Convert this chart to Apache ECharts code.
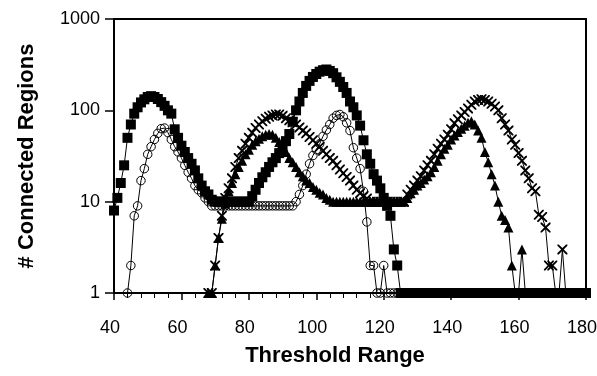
<!DOCTYPE html>
<html><head><meta charset="utf-8">
<script src="https://cdn.jsdelivr.net/npm/echarts@6/dist/echarts.min.js"></script>
<style>html,body{margin:0;padding:0;background:#fff}#c{width:597px;height:376px}</style>
</head><body><div id="c"></div>
<script>
const thresholds = [
 40,41,42,43,44,45,46,47,48,49,
 50,51,52,53,54,55,56,57,58,59,
 60,61,62,63,64,65,66,67,68,69,
 70,71,72,73,74,75,76,77,78,79,
 80,81,82,83,84,85,86,87,88,89,
 90,91,92,93,94,95,96,97,98,99,
 100,101,102,103,104,105,106,107,108,109,
 110,111,112,113,114,115,116,117,118,119,
 120,121,122,123,124,125,126,127,128,129,
 130,131,132,133,134,135,136,137,138,139,
 140,141,142,143,144,145,146,147,148,149,
 150,151,152,153,154,155,156,157,158,159,
 160,161,162,163,164,165,166,167,168,169,
 170,171,172,173,174,175,176,177,178,179,
 180];

const squares = [
 8,11,16,25,50,70,92,108,122,132,
 140,143,140,133,123,112,100,92,62,50,
 41,35,30,26,22,18,15,13,12,10.5,
 10,10,10,10,10,10,10,10,10,10,
 10,11.5,13.5,16,18.5,21,24,27,30,34,
 40,46,55,75,100,125,155,185,210,232,
 250,265,275,280,270,255,230,205,180,155,
 125,108,88,68,47,33,26,20,17,14,
 11,9,7,3,2,1,1,1,1,1,
 1,1,1,1,1,1,1,1,1,1,
 1,1,1,1,1,1,1,1,1,1,
 1,1,1,1,1,1,1,1,1,1,
 1,1,1,1,1,1,1,1,1,1,
 1,1,1,1,1,1,1,1,1,1,
 1];

const circles = [
 null,null,null,null,1,2,7,9,17,23,
 33,40,48,56,63,64,57,48,40,35,
 30,25,21,18,15,13.5,12.5,11,10,9,
 9,9,9,9,9,9,9,9,9,9,
 9,9,9,9,9,9,9,9,9,9,
 9,9,9,9,10,12,15,20,26,32,
 37,43,52,61,70,82,88,90,85,73,
 60,39,30,23,13,6,2,2,1,1,
 2,1,1,1,1,1,1,1,1,1,
 1,1,1,1,1,1,1,1,1,1,
 1,1,1,1,1,1,1,1,1,1,
 1,1,1,1,1,1,1,1,1,1,
 1,1,1,1,1,1,1,1,1,1,
 1,1,1,1,1,1,1,1,1,1,
 1];

const triangles = [
 null,null,null,null,null,null,null,null,null,null,
 null,null,null,null,null,null,null,null,null,null,
 null,null,null,null,null,null,null,null,1,1,
 2,4,6.5,9.5,13,16,20,24,28,33,
 37,42,46,49,52,54,55,54,50,45,
 40,35,30,27,24,21,19,17,16,14.5,
 13.5,12.5,12,11,10.5,10,10,10,10,10,
 10,10,10,10,10,10,10,10,10,10,
 10,10,10,10,10,10,10,11,12.4,13.5,
 15,16,17.5,19,21,24,28,33,38,42,
 48,53,58,63,68,73,76,70,60,50,
 35,27,20,15,10,7,6.3,5.2,2,1,
 1,3,1,1,1,1,1,1,1,1,
 1,1,1,1,1,1,1,1,1,1,
 1];

const crosses = [
 null,null,null,null,null,null,null,null,null,null,
 null,null,null,null,null,null,null,null,null,null,
 null,null,null,null,null,null,null,null,1,1,
 2,4,7,11,14,18,24,30,36,43,
 50,57,64,70,76,81,85,88,90,90,
 87,82,78,74,70,65,60,56,51,47,
 43,40,36,33,30,28,25,22.5,20.5,18.6,
 17,15,13.5,12.4,11.5,10.8,10,10,10,10,
 10,10,10,10,10,10,10,12,13.5,15,
 17,19,22,25,28,33,38,43,48,54,
 62,72,80,88,96,105,115,125,130,132,
 130,125,118,110,100,82,70,60,48,42,
 34,28,22,18,14,13,7.2,6.8,5.2,2,
 2,1,1,3,1,1,1,1,1,1,
 1];

const xTickLabels = ['40','60','80','100','120','140','160','180'];
const yTickLabels = {1:'1', 10:'10', 100:'100', 1000:'1000'};

function pairs(vals){ return thresholds.map((x,i)=>[x, vals[i]]); }

const FONT = 'Liberation Sans, Arial, sans-serif';
const crossPath = 'path://M0,0L1.3,0L5,3.7L8.7,0L10,0L10,1.3L6.3,5L10,8.7L10,10L8.7,10L5,6.3L1.3,10L0,10L0,8.7L3.7,5L0,1.3Z';

const base = {
  type:'line', clip:false, silent:true, showAllSymbol:true, connectNulls:false,
  lineStyle:{color:'#000', width:1}, emphasis:{disabled:true}
};

const chart = echarts.init(document.getElementById('c'), null, {renderer:'canvas'});
chart.setOption({
  animation:false,
  backgroundColor:'#fff',
  grid:{left:114, right:11, top:19, bottom:83, containLabel:false, outerBoundsMode:'none',
        show:true, borderColor:'#000', borderWidth:2, backgroundColor:'transparent'},
  xAxis:{
    type:'value', min:40, max:180, interval:20,
    name:'Threshold Range', nameLocation:'middle', nameGap:52,
    nameTextStyle:{fontFamily:FONT, fontSize:22, fontWeight:'bold', color:'#000', padding:[0,30,0,0]},
    axisLine:{show:true, onZero:false, lineStyle:{color:'#000', width:2}},
    axisTick:{show:true, inside:false, length:7, lineStyle:{color:'#000', width:1.5}},
    minorTick:{show:true, splitNumber:5, length:5, lineStyle:{color:'#000', width:1}},
    splitLine:{show:false}, minorSplitLine:{show:false},
    axisLabel:{fontFamily:FONT, fontSize:18, color:'#000', margin:26, padding:[0,8,0,0],
      formatter:(v)=>xTickLabels[Math.round((v-40)/20)] ?? ''}
  },
  yAxis:{
    type:'log', logBase:10, min:1, max:1000,
    name:'# Connected Regions', nameLocation:'middle', nameGap:76,
    nameTextStyle:{fontFamily:FONT, fontSize:22, fontWeight:'bold', color:'#000'},
    axisLine:{show:true, lineStyle:{color:'#000', width:2}},
    axisTick:{show:true, inside:false, length:9, lineStyle:{color:'#000', width:1.5}},
    minorTick:{show:false},
    splitLine:{show:false},
    axisLabel:{fontFamily:FONT, fontSize:18, color:'#000', margin:14,
      formatter:(v)=>yTickLabels[Math.round(v)] ?? ''}
  },
  series:[
    Object.assign({}, base, {name:'circles', data:pairs(circles), symbol:'circle', symbolSize:8.5, z:2,
      itemStyle:{color:'transparent', borderColor:'#000', borderWidth:1}}),
    Object.assign({}, base, {name:'crosses', data:pairs(crosses), symbol:crossPath, symbolSize:10, z:3,
      itemStyle:{color:'#000'}}),
    Object.assign({}, base, {name:'triangles', data:pairs(triangles), symbol:'triangle', symbolSize:10, z:4,
      itemStyle:{color:'#000'}}),
    Object.assign({}, base, {name:'squares', data:pairs(squares), symbol:'rect', symbolSize:10, z:5,
      itemStyle:{color:'#000'}})
  ]
});
</script></body></html>
